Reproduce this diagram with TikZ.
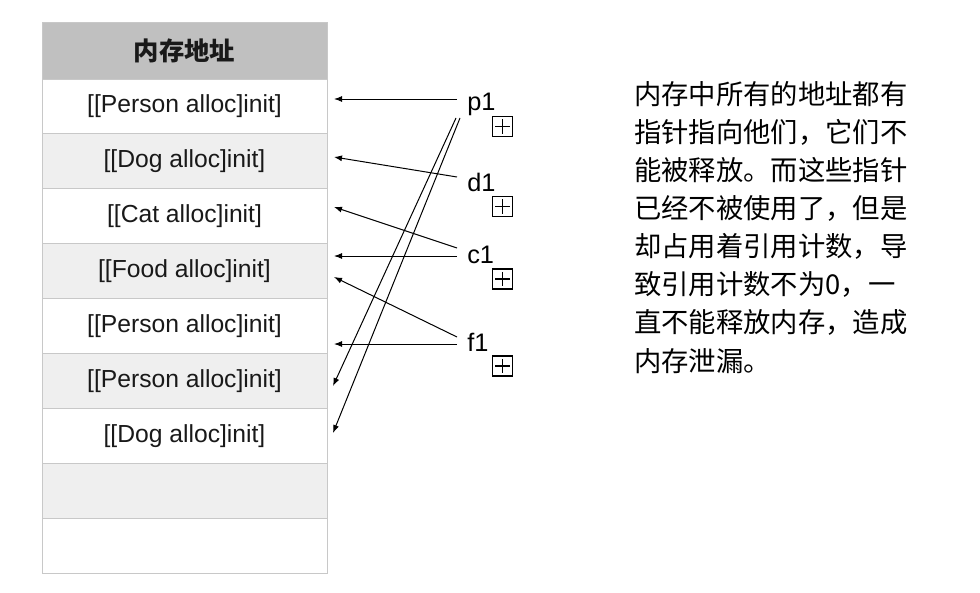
\documentclass[tikz,border=0pt]{standalone}
\usepackage{fontspec}
\setmainfont{Liberation Sans}
\newfontfamily\cjk{Noto Sans CJK SC}
\usetikzlibrary{arrows.meta,calc}
\definecolor{cellline}{HTML}{C8C8C8}
\definecolor{headfill}{HTML}{C0C0C0}
\definecolor{rowgray}{HTML}{EFEFEF}
\begin{document}
\begin{tikzpicture}[x=0.75pt,y=-0.75pt,
  cell/.style={draw=cellline, line width=0.75pt, minimum width=213.75pt, minimum height=41.175pt, inner sep=0pt, font=\fontsize{18.5}{22}\selectfont, text=black!90},
  headcell/.style={cell, fill=headfill, minimum height=42pt, font=\cjk\bfseries\fontsize{19}{22}\selectfont},
  whiterow/.style={cell, fill=white},
  grayrow/.style={cell, fill=rowgray},
  lbl/.style={anchor=base west, inner sep=0pt, font=\fontsize{19}{22}\selectfont},
  plusbox/.style={draw, line width=1.2pt, minimum size=15pt, inner sep=0pt,
    path picture={\draw[line width=1.1pt] ($(path picture bounding box.north)+(0,-2.2pt)$) -- ($(path picture bounding box.south)+(0,2.2pt)$);
                  \draw[line width=1.1pt] ($(path picture bounding box.west)+(2.2pt,0)$) -- ($(path picture bounding box.east)+(-2.2pt,0)$);}},
  ptr/.style={-{Latex[length=6pt,width=4.5pt]}, line width=0.75pt},
  para/.style={anchor=west, inner sep=0pt, font=\cjk\fontsize{20.5}{24}\selectfont}
]
\useasboundingbox[fill=white] (0,0) rectangle (980,592);

% table
\node[headcell] (h) at (184.5,51) {内存地址};
\node[whiterow] (r1) at (184.5,106.45) {[[Person alloc]init]};
\node[grayrow] (r2) at (184.5,161.35) {[[Dog alloc]init]};
\node[whiterow] (r3) at (184.5,216.25) {[[Cat alloc]init]};
\node[grayrow] (r4) at (184.5,271.15) {[[Food alloc]init]};
\node[whiterow] (r5) at (184.5,326.05) {[[Person alloc]init]};
\node[grayrow] (r6) at (184.5,380.95) {[[Person alloc]init]};
\node[whiterow] (r7) at (184.5,435.85) {[[Dog alloc]init]};
\node[grayrow] (r8) at (184.5,490.75) {};
\node[whiterow] (r9) at (184.5,545.65) {};

% pointer labels
\node[lbl] (p1) at (467,110) {p1};
\node[lbl] (d1) at (467,191) {d1};
\node[lbl] (c1) at (467,263) {c1};
\node[lbl] (f1) at (467,351) {f1};

\node[plusbox] (pb1) at (502.5,126.5) {};
\node[plusbox] (pb2) at (502.5,206.5) {};
\node[plusbox] (pb3) at (502.5,279) {};
\node[plusbox] (pb4) at (502.5,366) {};

% arrows
\coordinate (p1s) at (457,99);
\coordinate (p1a) at (456,118);
\coordinate (p1b) at (460,118);
\coordinate (d1s) at (457,177);
\coordinate (c1a) at (457,248);
\coordinate (c1b) at (457,256);
\coordinate (f1a) at (457,337);
\coordinate (f1b) at (457,344);

\coordinate (e1) at (334,99);
\coordinate (e2) at (334,157);
\coordinate (e3) at (334,207);
\coordinate (e4) at (334,256);
\coordinate (e5) at (334,277);
\coordinate (e6) at (334,344);
\coordinate (e7) at (333,386);
\coordinate (e8) at (333,433);

\draw[ptr] (p1s) -- (e1);
\draw[ptr] (d1s) -- (e2);
\draw[ptr] (c1a) -- (e3);
\draw[ptr] (c1b) -- (e4);
\draw[ptr] (f1a) -- (e5);
\draw[ptr] (f1b) -- (e6);
\draw[ptr] (p1a) -- (e7);
\draw[ptr] (p1b) -- (e8);

% paragraph
\node[para] (t1) at (634,94) {内存中所有的地址都有};
\node[para] (t2) at (634,132.1) {指针指向他们，它们不};
\node[para] (t3) at (634,170.2) {能被释放。而这些指针};
\node[para] (t4) at (634,208.3) {已经不被使用了，但是};
\node[para] (t5) at (634,246.4) {却占用着引用计数，导};
\node[para] (t6) at (634,284.5) {致引用计数不为0，一};
\node[para] (t7) at (634,322.6) {直不能释放内存，造成};
\node[para] (t8) at (634,360.7) {内存泄漏。};
\end{tikzpicture}
\end{document}
